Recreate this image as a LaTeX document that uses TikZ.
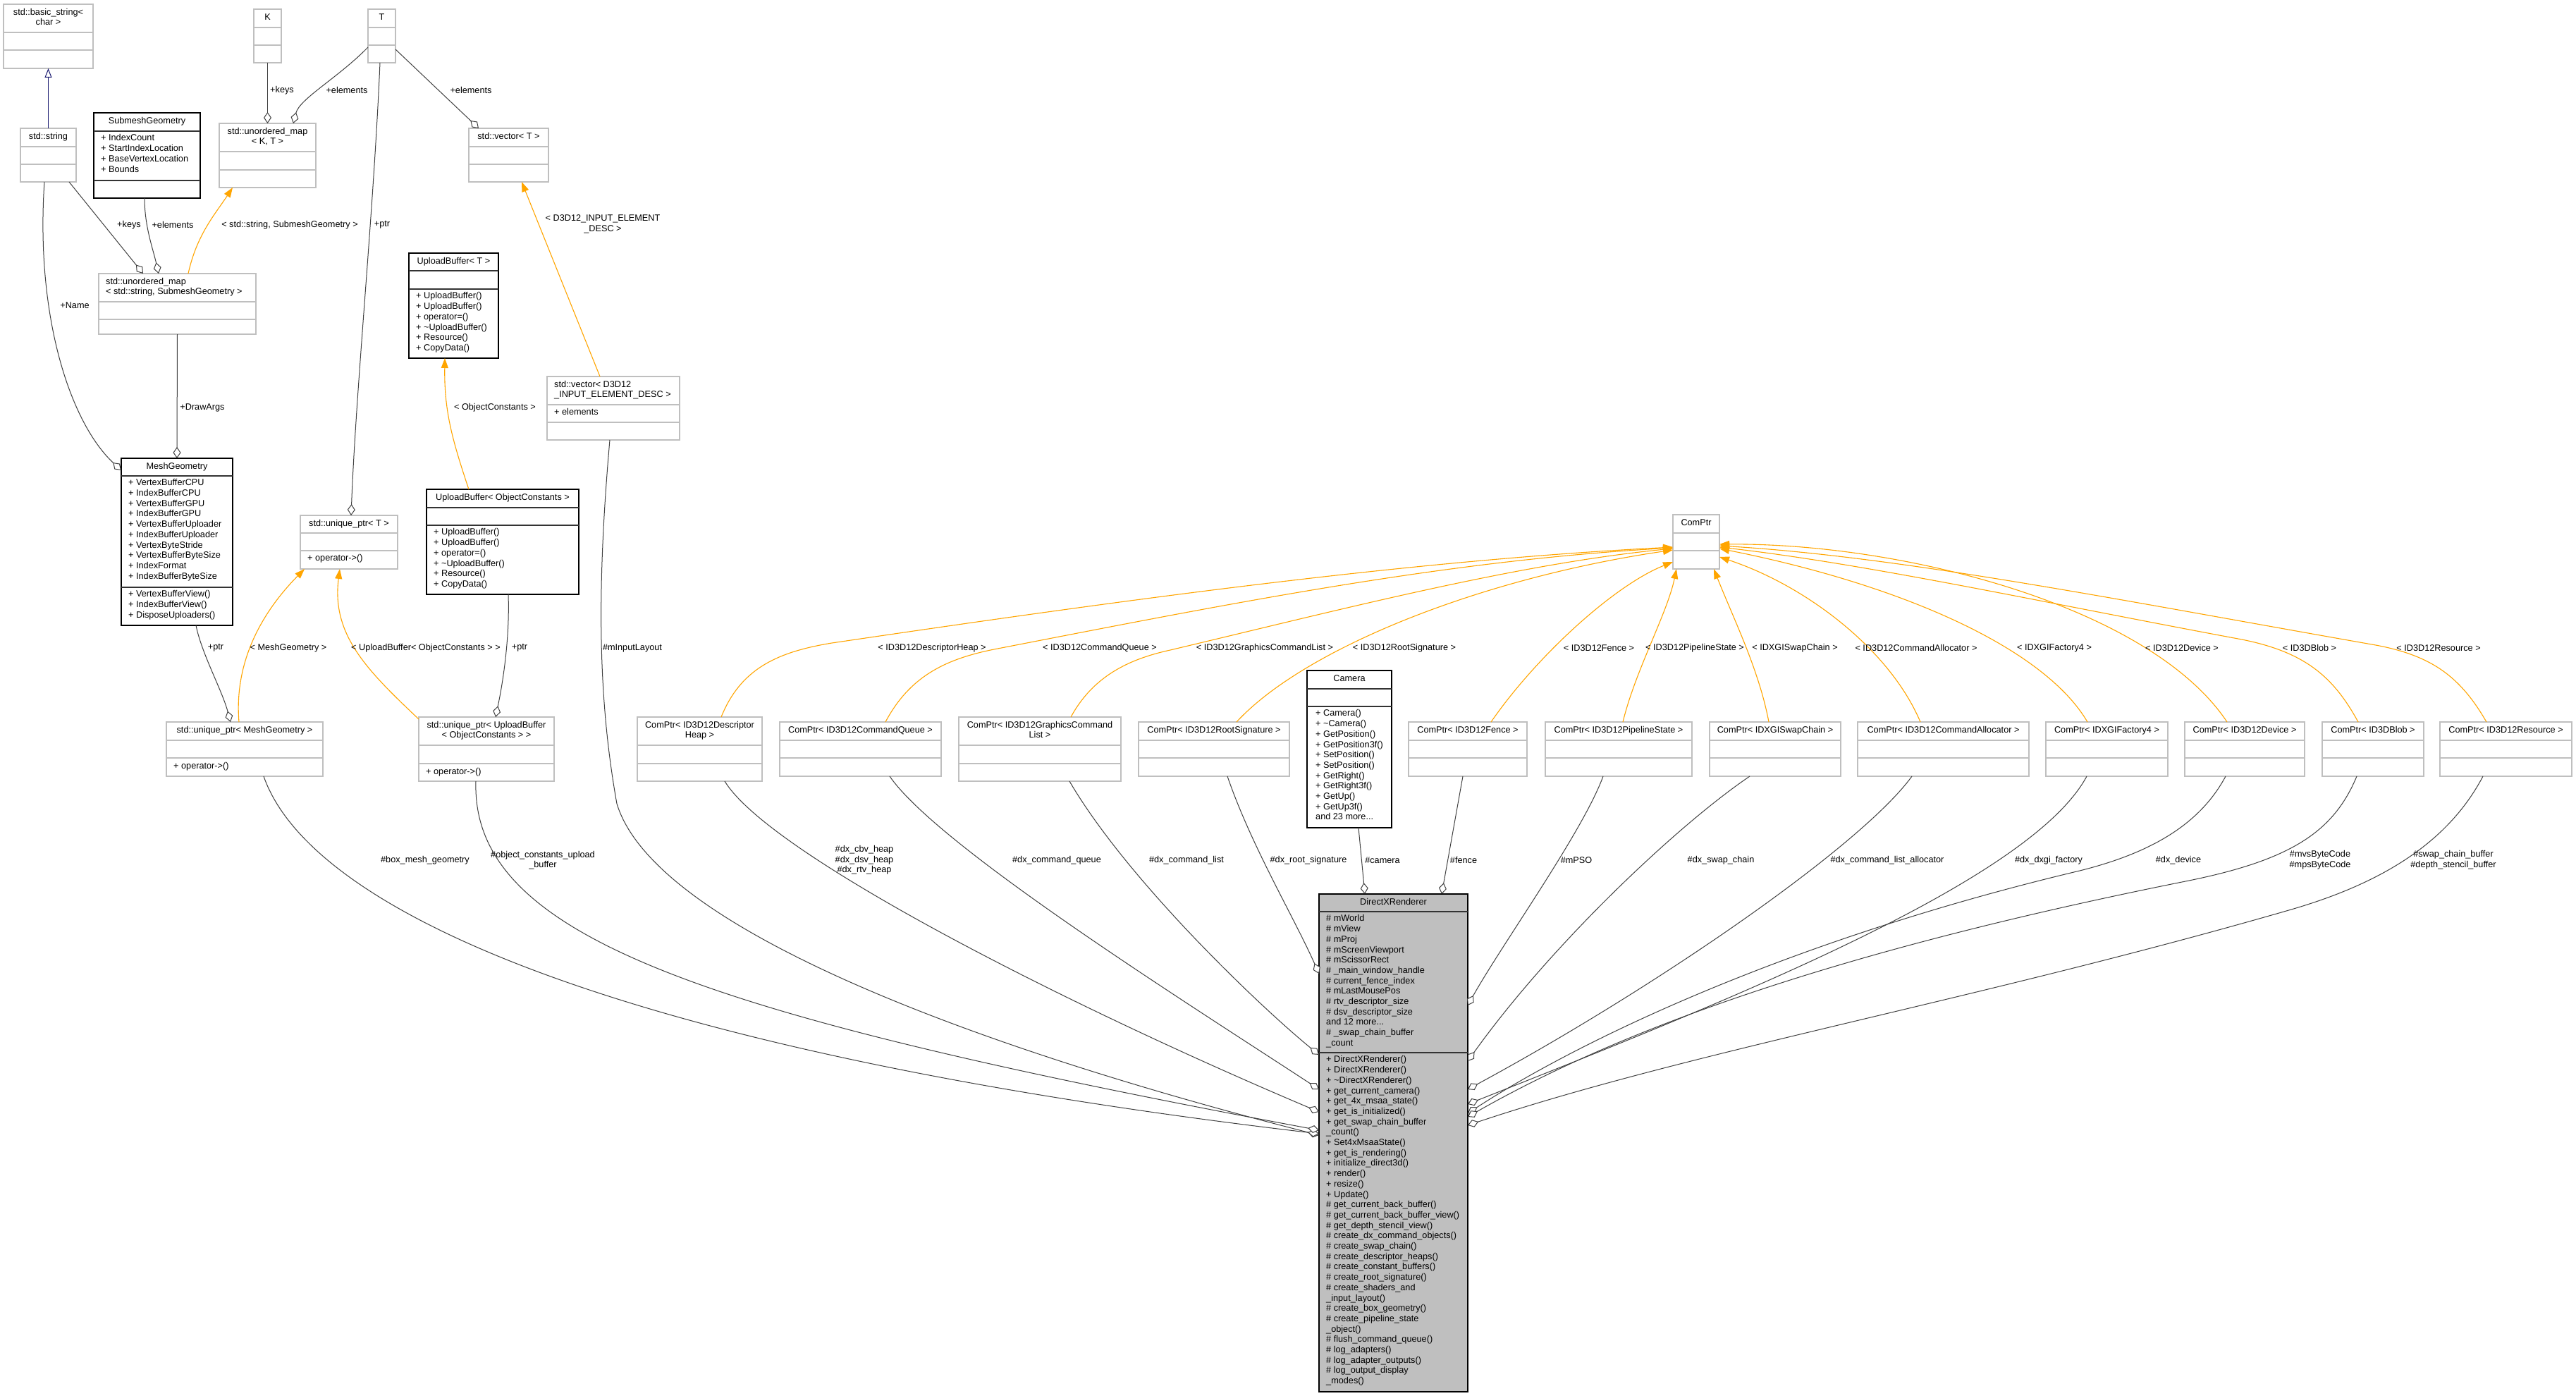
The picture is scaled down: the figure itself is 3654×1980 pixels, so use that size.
\documentclass[tikz,border=0pt]{standalone}
\usepackage{fontspec}
\setmainfont{Liberation Sans}
\usetikzlibrary{arrows.meta,calc}
\definecolor{boxgray}{HTML}{BFBFBF}
\definecolor{dxrgray}{HTML}{BFBFBF}
\definecolor{edgegray}{HTML}{404040}
\definecolor{tmplorange}{HTML}{FFA500}
\definecolor{inhblue}{HTML}{191970}
\newcommand\fsz{\fontsize{12.7}{14.7}\selectfont}
% name, style, x1, y1, x2, y2, sep1, sep2
\newcommand\umlbox[8]{%
  \node[#2, anchor=north west, minimum width={#5pt-#3pt}, minimum height={#6pt-#4pt}] (#1) at (#3,#4) {};
  \draw[#2sep] (#3,#7) -- (#5,#7) (#3,#8) -- (#5,#8);}
\begin{document}
\begin{tikzpicture}[x=1pt,y=-1pt,
  gbox/.style={rectangle, draw=boxgray, line width=1.4pt, fill=white, inner sep=0pt, outer sep=0pt},
  gboxsep/.style={draw=boxgray, line width=1.4pt},
  bbox/.style={rectangle, draw=black, line width=1.6pt, fill=white, inner sep=0pt, outer sep=0pt},
  bboxsep/.style={draw=black!80, line width=1.6pt},
  dbox/.style={rectangle, draw=black, line width=1.6pt, fill=dxrgray, inner sep=0pt, outer sep=0pt},
  dboxsep/.style={draw=black!80, line width=1.6pt},
  ttl/.style={font=\fsz, inner sep=0pt, align=center, execute at begin node=\strut, execute at end node=\strut},
  ttll/.style={font=\fsz, inner sep=0pt, align=left, anchor=west, execute at begin node=\strut, execute at end node=\strut},
  mem/.style={font=\fsz, inner sep=0pt, align=left, anchor=north west, execute at begin node=\strut},
  lbl/.style={font=\fsz, inner sep=0pt, align=center},
  agg/.style={draw=edgegray, line width=1pt, -{Diamond[length=16pt,width=11pt,fill=white]}},
  tmpl/.style={draw=tmplorange, line width=1.1pt, -{Triangle[length=14pt,width=10pt]}},
  inh/.style={draw=inhblue, line width=1pt, -{Triangle[length=13pt,width=10pt,fill=white]}}
]
\fill[white] (0,0) rectangle (3654,1980);
\useasboundingbox (0,0) rectangle (3654,1980);

% ---------------- boxes ----------------
\umlbox{bstr}{gbox}{5}{6}{132}{97}{46}{71}
\node[ttl] (bstr-t) at (68.5,26) {std::basic\_string<\\char >};
\umlbox{K}{gbox}{360}{13}{399}{89}{39}{64}
\node[ttl] (K-t) at (379.5,26) {K};
\umlbox{T}{gbox}{522}{13}{561}{89}{39}{64}
\node[ttl] (T-t) at (541.5,26) {T};
\umlbox{str}{gbox}{29}{182}{108}{258}{208}{233}
\node[ttl] (str-t) at (68.5,195) {std::string};
\umlbox{sub}{bbox}{133}{160}{284}{281}{186}{256}
\node[ttl] (sub-t) at (208.5,173) {SubmeshGeometry};
\node[mem] (sub-a) at (143,190.5) {+ IndexCount\\+ StartIndexLocation\\+ BaseVertexLocation\\+ Bounds};
\umlbox{mapKT}{gbox}{311}{175}{448}{266}{215}{241}
\node[ttl] (mapKT-t) at (379.5,195) {std::unordered\_map\\< K, T >};
\umlbox{vecT}{gbox}{665}{182}{778}{258}{208}{233}
\node[ttl] (vecT-t) at (721.5,195) {std::vector< T >};
\umlbox{mapSG}{gbox}{140}{388}{363}{474}{428}{453}
\node[ttll] (mapSG-t) at (150,408) {std::unordered\_map\\< std::string, SubmeshGeometry >};
\umlbox{UBT}{bbox}{580}{359}{707}{508}{384}{410}
\node[ttl] (UBT-t) at (643.5,371.5) {UploadBuffer< T >};
\node[mem] (UBT-m) at (590,414.5) {+ UploadBuffer()\\+ UploadBuffer()\\+ operator=()\\+ \textasciitilde UploadBuffer()\\+ Resource()\\+ CopyData()};
\umlbox{MG}{bbox}{172}{650}{330}{887}{675}{833}
\node[ttl] (MG-t) at (251,662.5) {MeshGeometry};
\node[mem] (MG-a) at (182,679.5) {+ VertexBufferCPU\\+ IndexBufferCPU\\+ VertexBufferGPU\\+ IndexBufferGPU\\+ VertexBufferUploader\\+ IndexBufferUploader\\+ VertexByteStride\\+ VertexBufferByteSize\\+ IndexFormat\\+ IndexBufferByteSize};
\node[mem] (MG-m) at (182,837.5) {+ VertexBufferView()\\+ IndexBufferView()\\+ DisposeUploaders()};
\umlbox{uT}{gbox}{426}{731}{564}{807}{756}{781}
\node[ttl] (uT-t) at (495,743.5) {std::unique\_ptr< T >};
\node[mem] (uT-m) at (436,785.5) {+ operator->()};
\umlbox{UBOC}{bbox}{605}{694}{821}{843}{720}{745}
\node[ttl] (UBOC-t) at (713,707) {UploadBuffer< ObjectConstants >};
\node[mem] (UBOC-m) at (615,749.5) {+ UploadBuffer()\\+ UploadBuffer()\\+ operator=()\\+ \textasciitilde UploadBuffer()\\+ Resource()\\+ CopyData()};
\umlbox{vD3D}{gbox}{776}{534}{964}{624}{574}{599}
\node[ttll] (vD3D-t) at (786,554) {std::vector< D3D12\\\_INPUT\_ELEMENT\_DESC >};
\node[mem] (vD3D-a) at (786,578.5) {+ elements};
\umlbox{uMG}{gbox}{236}{1024}{458}{1101}{1050}{1075}
\node[ttl] (uMG-t) at (347,1037) {std::unique\_ptr< MeshGeometry >};
\node[mem] (uMG-m) at (246,1079.5) {+ operator->()};
\umlbox{uUB}{gbox}{594}{1017}{786}{1108}{1057}{1083}
\node[ttl] (uUB-t) at (690,1037) {std::unique\_ptr< UploadBuffer\\< ObjectConstants > >};
\node[mem] (uUB-m) at (604,1087.5) {+ operator->()};
\umlbox{cpHeap}{gbox}{904}{1017}{1081}{1108}{1057}{1083}
\node[ttl] (cpHeap-t) at (992.5,1037) {ComPtr< ID3D12Descriptor\\Heap >};
\umlbox{cpQueue}{gbox}{1106}{1024}{1335}{1101}{1050}{1075}
\node[ttl] (cpQueue-t) at (1220.5,1037) {ComPtr< ID3D12CommandQueue >};
\umlbox{cpList}{gbox}{1360}{1017}{1590}{1108}{1057}{1083}
\node[ttl] (cpList-t) at (1475,1037) {ComPtr< ID3D12GraphicsCommand\\List >};
\umlbox{cpRoot}{gbox}{1615}{1024}{1829}{1101}{1050}{1075}
\node[ttl] (cpRoot-t) at (1722,1037) {ComPtr< ID3D12RootSignature >};
\umlbox{cam}{bbox}{1854}{951}{1974}{1174}{977}{1002}
\node[ttl] (cam-t) at (1914,964) {Camera};
\node[mem] (cam-m) at (1866,1006.5) {+ Camera()\\+ \textasciitilde Camera()\\+ GetPosition()\\+ GetPosition3f()\\+ SetPosition()\\+ SetPosition()\\+ GetRight()\\+ GetRight3f()\\+ GetUp()\\+ GetUp3f()\\and 23 more...};
\umlbox{cpFence}{gbox}{1998}{1024}{2166}{1101}{1050}{1075}
\node[ttl] (cpFence-t) at (2082,1037) {ComPtr< ID3D12Fence >};
\umlbox{cpPSO}{gbox}{2192}{1024}{2400}{1101}{1050}{1075}
\node[ttl] (cpPSO-t) at (2296,1037) {ComPtr< ID3D12PipelineState >};
\umlbox{cpSwap}{gbox}{2425}{1024}{2611}{1101}{1050}{1075}
\node[ttl] (cpSwap-t) at (2518,1037) {ComPtr< IDXGISwapChain >};
\umlbox{cpAlloc}{gbox}{2635}{1024}{2878}{1101}{1050}{1075}
\node[ttl] (cpAlloc-t) at (2756.5,1037) {ComPtr< ID3D12CommandAllocator >};
\umlbox{cpFactory}{gbox}{2902}{1024}{3075}{1101}{1050}{1075}
\node[ttl] (cpFactory-t) at (2988.5,1037) {ComPtr< IDXGIFactory4 >};
\umlbox{cpDevice}{gbox}{3099}{1024}{3269}{1101}{1050}{1075}
\node[ttl] (cpDevice-t) at (3184,1037) {ComPtr< ID3D12Device >};
\umlbox{cpBlob}{gbox}{3294}{1024}{3438}{1101}{1050}{1075}
\node[ttl] (cpBlob-t) at (3366,1037) {ComPtr< ID3DBlob >};
\umlbox{cpRes}{gbox}{3461}{1024}{3648}{1101}{1050}{1075}
\node[ttl] (cpRes-t) at (3554.5,1037) {ComPtr< ID3D12Resource >};
\umlbox{cp}{gbox}{2373}{730}{2439}{807}{756}{781}
\node[ttl] (cp-t) at (2406,743) {ComPtr};
\umlbox{dxr}{dbox}{1871}{1268}{2082}{1974}{1293}{1493}
\node[ttl] (dxr-t) at (1976.5,1280.5) {DirectXRenderer};
\node[mem] (dxr-a) at (1881,1297.5) {\# mWorld\\\# mView\\\# mProj\\\# mScreenViewport\\\# mScissorRect\\\# \_main\_window\_handle\\\# current\_fence\_index\\\# mLastMousePos\\\# rtv\_descriptor\_size\\\# dsv\_descriptor\_size\\and 12 more...\\\# \_swap\_chain\_buffer\\\_count};
\node[mem] (dxr-m) at (1881,1497.5) {+ DirectXRenderer()\\+ DirectXRenderer()\\+ \textasciitilde DirectXRenderer()\\+ get\_current\_camera()\\+ get\_4x\_msaa\_state()\\+ get\_is\_initialized()\\+ get\_swap\_chain\_buffer\\\_count()\\+ Set4xMsaaState()\\+ get\_is\_rendering()\\+ initialize\_direct3d()\\+ render()\\+ resize()\\+ Update()\\\# get\_current\_back\_buffer()\\\# get\_current\_back\_buffer\_view()\\\# get\_depth\_stencil\_view()\\\# create\_dx\_command\_objects()\\\# create\_swap\_chain()\\\# create\_descriptor\_heaps()\\\# create\_constant\_buffers()\\\# create\_root\_signature()\\\# create\_shaders\_and\\\_input\_layout()\\\# create\_box\_geometry()\\\# create\_pipeline\_state\\\_object()\\\# flush\_command\_queue()\\\# log\_adapters()\\\# log\_adapter\_outputs()\\\# log\_output\_display\\\_modes()};

% ---------------- upper-left edges ----------------
\draw[inh] (str.north) -- (bstr.south);
\draw[agg] (K.south) -- (mapKT.north);
\draw[agg] ($(T.north west)+(0,54)$) .. controls (480,110) and (425,140) .. ($(mapKT.north west)+(105,0)$);
\draw[agg] ($(T.north west)+(39,57)$) -- ($(vecT.north west)+(14,0)$);
\draw[agg] ($(T.south west)+(17,0)$) .. controls (530,300) and (505,550) .. ($(uT.north west)+(72,0)$);
\draw[agg] ($(str.south west)+(69,0)$) -- ($(mapSG.north west)+(63,0)$);
\draw[agg] ($(sub.south west)+(72,0)$) .. controls (205,321) and (217,353) .. ($(mapSG.north west)+(85,0)$);
\draw[tmpl] ($(mapSG.north west)+(127,0)$) .. controls (279,333) and (305,304) .. ($(mapKT.south west)+(19,0)$);
\draw[agg] ($(str.south west)+(34,0)$) .. controls (50,450) and (100,600) .. ($(MG.north west)+(0,17)$);
\draw[agg] (mapSG.south) -- (MG.north);
\draw[tmpl] ($(vD3D.north west)+(75,0)$) -- ($(vecT.south west)+(75,0)$);
\draw[tmpl] ($(UBOC.north west)+(60,0)$) .. controls (640,620) and (630,580) .. ($(UBT.south west)+(51,0)$);
\draw[agg] ($(UBOC.south west)+(116,0)$) .. controls (723,900) and (715,960) .. ($(uUB.north west)+(109,0)$);
\draw[agg] ($(MG.south west)+(106,0)$) .. controls (286,927) and (315,979) .. ($(uMG.north west)+(91,0)$);
\draw[tmpl] ($(uMG.north west)+(103,0)$) .. controls (332,940) and (370,870) .. ($(uT.south west)+(6,0)$);
\draw[tmpl] ($(uUB.north west)+(0,3)$) .. controls (520,950) and (470,900) .. ($(uT.south west)+(56,0)$);

% ---------------- edges into DirectXRenderer (left) ----------------
\draw[agg] ($(vD3D.south west)+(89,0)$) .. controls (845,850) and (850,1000) .. (875,1140) .. controls (930,1320) and (1400,1490) .. ($(dxr.north west)+(0,342)$);
\draw[agg] ($(uMG.south west)+(138,0)$) .. controls (440,1290) and (870,1490) .. ($(dxr.north west)+(0,340)$);
\draw[agg] ($(uUB.south west)+(81,0)$) .. controls (668,1330) and (1000,1440) .. ($(dxr.north west)+(0,335)$);
\draw[agg] ($(cpHeap.south west)+(124,0)$) .. controls (1090,1210) and (1500,1420) .. ($(dxr.north west)+(0,309)$);
\draw[agg] ($(cpQueue.south west)+(156,0)$) .. controls (1330,1200) and (1680,1420) .. ($(dxr.north west)+(0,277)$);
\draw[agg] ($(cpList.south west)+(157,0)$) .. controls (1600,1250) and (1790,1430) .. ($(dxr.north west)+(0,228)$);
\draw[agg] ($(cpRoot.south west)+(126,0)$) .. controls (1775,1200) and (1835,1300) .. ($(dxr.north west)+(0,113)$);
\draw[agg] ($(cam.south west)+(73,0)$) -- ($(dxr.north west)+(65,0)$);
\draw[agg] ($(cpFence.south west)+(77,0)$) -- ($(dxr.north west)+(174,0)$);

% ---------------- edges into DirectXRenderer (right) ----------------
\draw[agg] ($(cpPSO.south west)+(82,0)$) .. controls (2245,1180) and (2130,1340) .. ($(dxr.north east)+(0,158)$);
\draw[agg] ($(cpSwap.south west)+(57,0)$) .. controls (2380,1170) and (2200,1340) .. ($(dxr.north east)+(0,237)$);
\draw[agg] ($(cpAlloc.south west)+(77,0)$) .. controls (2640,1200) and (2350,1400) .. ($(dxr.north east)+(0,277)$);
\draw[agg] ($(cpFactory.south west)+(58,0)$) .. controls (2880,1250) and (2450,1420) .. ($(dxr.north east)+(0,298)$);
\draw[agg] ($(cpDevice.south west)+(58,0)$) .. controls (3120,1170) and (3050,1210) .. (2950,1235) .. controls (2550,1330) and (2250,1470) .. ($(dxr.north east)+(0,311)$);
\draw[agg] ($(cpBlob.south west)+(49,0)$) .. controls (3310,1180) and (3250,1220) .. (3100,1250) .. controls (2600,1350) and (2300,1460) .. ($(dxr.north east)+(0,316)$);
\draw[agg] ($(cpRes.south west)+(61,0)$) .. controls (3470,1200) and (3370,1255) .. (3250,1290) .. controls (2800,1420) and (2400,1490) .. ($(dxr.north east)+(0,328)$);

% ---------------- template edges into ComPtr ----------------
\draw[tmpl] ($(cpHeap.north west)+(119,0)$) .. controls (1050,950) and (1100,925) .. (1180,912) .. controls (1600,850) and (2000,795) .. ($(cp.north west)+(0,46)$);
\draw[tmpl] ($(cpQueue.north west)+(150,0)$) .. controls (1290,960) and (1340,935) .. (1410,921) .. controls (1750,855) and (2050,795) .. ($(cp.north west)+(0,47)$);
\draw[tmpl] ($(cpList.north west)+(159,0)$) .. controls (1550,960) and (1600,935) .. (1660,922) .. controls (1900,865) and (2150,800) .. ($(cp.north west)+(0,48)$);
\draw[tmpl] ($(cpRoot.north west)+(139,0)$) .. controls (1850,920) and (2100,820) .. ($(cp.north west)+(0,50)$);
\draw[tmpl] ($(cpFence.north west)+(117,0)$) .. controls (2180,930) and (2290,830) .. ($(cp.south west)+(0,-10)$);
\draw[tmpl] ($(cpPSO.north west)+(110,0)$) .. controls (2320,950) and (2365,870) .. ($(cp.south west)+(5,0)$);
\draw[tmpl] ($(cpSwap.north west)+(84,0)$) .. controls (2495,950) and (2460,880) .. ($(cp.south west)+(58,0)$);
\draw[tmpl] ($(cpAlloc.north west)+(89,0)$) .. controls (2680,920) and (2560,830) .. ($(cp.south east)+(0,-17)$);
\draw[tmpl] ($(cpFactory.north west)+(59,0)$) .. controls (2900,920) and (2700,830) .. ($(cp.north east)+(0,48)$);
\draw[tmpl] ($(cpDevice.north west)+(60,0)$) .. controls (3050,860) and (2700,770) .. ($(cp.north east)+(0,42)$);
\draw[tmpl] ($(cpBlob.north west)+(51,0)$) .. controls (3310,960) and (3270,925) .. (3180,907) .. controls (2900,855) and (2650,800) .. ($(cp.north east)+(0,46)$);
\draw[tmpl] ($(cpRes.north west)+(66,0)$) .. controls (3490,960) and (3450,930) .. (3370,915) .. controls (3000,850) and (2700,790) .. ($(cp.north east)+(0,44)$);

% ---------------- labels ----------------
\node[lbl] (lb1) at (400,128) {+keys};
\node[lbl] (lb2) at (492,128) {+elements};
\node[lbl] (lb3) at (668,128) {+elements};
\node[lbl] (lb4) at (183,319) {+keys};
\node[lbl] (lb5) at (245,319) {+elements};
\node[lbl] (lb6) at (411,319) {< std::string, SubmeshGeometry >};
\node[lbl] (lb7) at (542,319) {+ptr};
\node[lbl] (lb8) at (855,318) {< D3D12\_INPUT\_ELEMENT\\\_DESC >};
\node[lbl] (lb9) at (106,433) {+Name};
\node[lbl] (lb10) at (287,578) {+DrawArgs};
\node[lbl] (lb11) at (702,578) {< ObjectConstants >};
\node[lbl] (lb12) at (306,919) {+ptr};
\node[lbl] (lb13) at (409,919) {< MeshGeometry >};
\node[lbl] (lb14) at (604,919) {< UploadBuffer< ObjectConstants > >};
\node[lbl] (lb15) at (737,919) {+ptr};
\node[lbl] (lb16) at (897,919) {\#mInputLayout};
\node[lbl] (lb17) at (1322,919) {< ID3D12DescriptorHeap >};
\node[lbl] (lb18) at (1560,919) {< ID3D12CommandQueue >};
\node[lbl] (lb19) at (1794,919) {< ID3D12GraphicsCommandList >};
\node[lbl] (lb20) at (1992,919) {< ID3D12RootSignature >};
\node[lbl] (lb21) at (2268,919) {< ID3D12Fence >};
\node[lbl] (lb22) at (2404,919) {< ID3D12PipelineState >};
\node[lbl] (lb23) at (2546,919) {< IDXGISwapChain >};
\node[lbl] (lb24) at (2718,919) {< ID3D12CommandAllocator >};
\node[lbl] (lb25) at (2914,919) {< IDXGIFactory4 >};
\node[lbl] (lb26) at (3095,919) {< ID3D12Device >};
\node[lbl] (lb27) at (3276,919) {< ID3DBlob >};
\node[lbl] (lb28) at (3459,919) {< ID3D12Resource >};
\node[lbl] (lb29) at (603,1220) {\#box\_mesh\_geometry};
\node[lbl] (lb30) at (770,1220) {\#object\_constants\_upload\\\_buffer};
\node[lbl] (lb31) at (1226,1220) {\#dx\_cbv\_heap\\\#dx\_dsv\_heap\\\#dx\_rtv\_heap};
\node[lbl] (lb32) at (1499,1220) {\#dx\_command\_queue};
\node[lbl] (lb33) at (1683,1220) {\#dx\_command\_list};
\node[lbl] (lb34) at (1856,1220) {\#dx\_root\_signature};
\node[lbl] (lb35) at (1961,1220) {\#camera};
\node[lbl] (lb36) at (2076,1220) {\#fence};
\node[lbl] (lb37) at (2236,1220) {\#mPSO};
\node[lbl] (lb38) at (2441,1220) {\#dx\_swap\_chain};
\node[lbl] (lb39) at (2677,1220) {\#dx\_command\_list\_allocator};
\node[lbl] (lb40) at (2906,1220) {\#dx\_dxgi\_factory};
\node[lbl] (lb41) at (3090,1220) {\#dx\_device};
\node[lbl] (lb42) at (3291,1220) {\#mvsByteCode\\\#mpsByteCode};
\node[lbl] (lb43) at (3480,1220) {\#swap\_chain\_buffer\\\#depth\_stencil\_buffer};
\end{tikzpicture}
\end{document}
